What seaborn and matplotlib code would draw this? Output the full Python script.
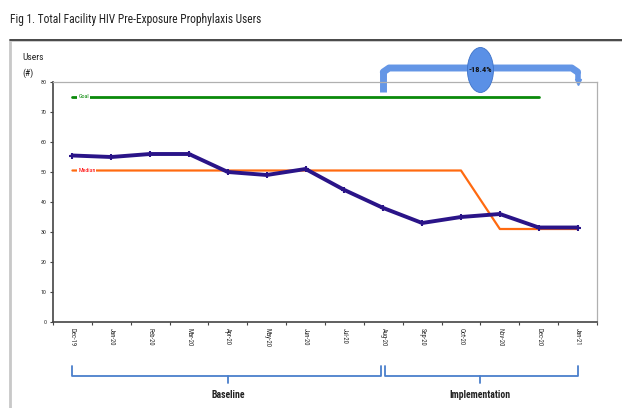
import numpy as np
import pandas as pd
import matplotlib
matplotlib.use("Agg")
import matplotlib.pyplot as plt
import seaborn as sns
from matplotlib.patches import Rectangle, Ellipse
from matplotlib.transforms import blended_transform_factory
from matplotlib import font_manager

months = ["Dec-19", "Jan-20", "Feb-20", "Mar-20", "Apr-20", "May-20", "Jun-20",
          "Jul-20", "Aug-20", "Sep-20", "Oct-20", "Nov-20", "Dec-20", "Jan-21"]
users = [55.5, 55, 56, 56, 50, 49, 51, 44, 38, 33, 35, 36, 31.5, 31.5]
median = [50.5, 50.5, 50.5, 50.5, 50.5, 50.5, 50.5, 50.5, 50.5, 50.5, 50.5, 31, 31, 31]
goal = [75] * 13
yticks = [0, 10, 20, 30, 40, 50, 60, 70, 80]
change_label = "-18.4%"
phases = ["Baseline", "Implementation"]
phase_bounds = [(0, 8), (8, 13)]

sns.set_theme(style="white")
available = {f.name for f in font_manager.fontManager.ttflist}
NARROW = [f for f in ["Liberation Sans Narrow", "DejaVu Sans Condensed", "Roboto Condensed",
                      "Open Sans Condensed", "Liberation Sans"] if f in available] + ["DejaVu Sans"]
plt.rcParams["font.family"] = NARROW
narrow_ok = NARROW[0] in ("Liberation Sans Narrow", "DejaVu Sans Condensed",
                          "Roboto Condensed", "Open Sans Condensed")
stretch_scale = 1.0 if narrow_ok else 0.85

W, H = 622, 408
fig = plt.figure(figsize=(W / 100, H / 100), dpi=100)

def fx(x):
    return x / W

def fy(y):
    return 1 - y / H

# outer frame
fig.patches.append(Rectangle((fx(10), fy(420)), fx(640) - fx(10), fy(40) - fy(420),
                             transform=fig.transFigure, fill=False,
                             edgecolor="#c8c8c8", lw=2, zorder=0))
fig.add_artist(plt.Line2D([fx(10), fx(622)], [fy(40), fy(40)], transform=fig.transFigure,
                          color="#333333", lw=1.2))

fig.text(fx(10), fy(19), "Fig 1. Total Facility HIV Pre-Exposure Prophylaxis Users",
         fontsize=8.3 * stretch_scale, va="center", ha="left", color="#222222")

ax = fig.add_axes([fx(53), fy(322), fx(597) - fx(53), fy(82) - fy(322)])

x = np.arange(len(months))
df = pd.DataFrame({"x": x, "users": users, "median": median})
dg = pd.DataFrame({"x": x[:len(goal)], "goal": goal})

sns.lineplot(data=dg, x="x", y="goal", ax=ax, color="#0a8a0a", lw=2)
sns.lineplot(data=df, x="x", y="median", ax=ax, color="#ff6a10", lw=1.6)
sns.lineplot(data=df, x="x", y="users", ax=ax, color="#2a1488", lw=2.8,
             marker="+", markersize=5, markeredgewidth=1.5, markeredgecolor="#2a1488")

ax.text(0.15, goal[0], "Goal", fontsize=4.3, color="#0a8a0a", va="center", ha="left",
        bbox=dict(facecolor="white", edgecolor="none", pad=0.6))
ax.text(0.15, median[0], "Median", fontsize=4.3, color="#ff0000", va="center", ha="left",
        bbox=dict(facecolor="white", edgecolor="none", pad=0.6))

ax.set_xlim(-0.5, len(months) - 0.5)
ax.set_ylim(0, 80)
ax.set_yticks(yticks)
ax.set_yticklabels([str(v) for v in yticks], fontsize=4.2)
ax.set_xticks(x)
ax.set_xticklabels(months, rotation=-90, fontsize=4.8, va="top", ha="center")
ax.set_xticks(np.arange(-0.5, len(months), 1), minor=True)
ax.tick_params(axis="x", which="major", length=0, pad=4)
ax.tick_params(axis="x", which="minor", length=2.5, width=0.8, color="#444444", bottom=True)
ax.tick_params(axis="y", length=2.5, width=0.8, color="#444444", left=True, pad=2)
ax.set_xlabel("")
ax.set_ylabel("")
for s in ["left", "bottom"]:
    ax.spines[s].set_color("#444444")
    ax.spines[s].set_linewidth(1.2)
for s in ["top", "right"]:
    ax.spines[s].set_color("#b0b0b0")
    ax.spines[s].set_linewidth(0.9)

fig.text(fx(22), fy(57), "Users", fontsize=6.8, ha="left", va="center", color="#222222")
fig.text(fx(22), fy(73), "(#)", fontsize=6.8, ha="left", va="center", color="#222222")

# top change bracket
tr = blended_transform_factory(ax.transData, fig.transFigure)
a, b = phase_bounds[1]
blue = "#6496e6"
xl, xr = a, b
ax.plot([xl, xl], [fy(92), fy(72)], transform=tr, color=blue, lw=5, clip_on=False,
        solid_capstyle="butt")
ax.plot([xl, xl + 0.15, xr - 0.15, xr], [fy(72), fy(68), fy(68), fy(72)], transform=tr,
        color=blue, lw=5, clip_on=False, solid_joinstyle="round")
ax.plot([xr, xr], [fy(72), fy(80)], transform=tr, color=blue, lw=4, clip_on=False,
        solid_capstyle="butt")
ax.plot([xr], [fy(82)], transform=tr, marker="v", color=blue, markersize=5, clip_on=False)
cx = (a + b) / 2
ell = Ellipse((cx, fy(70)), 0.67, fy(48) - fy(93), transform=tr, facecolor="#5a90e6",
              edgecolor="#3d72c8", lw=0.6, clip_on=False, zorder=5)
ax.add_patch(ell)
ax.text(cx, fy(69), change_label, transform=tr, fontsize=6 * stretch_scale, fontweight="bold",
        ha="center", va="center", color="#111111", zorder=6)

# phase brackets
bcol = "#4a7fcc"
for (p0, p1), name in zip(phase_bounds, phases):
    l = p0 + (0.05 if p0 > 0 else 0)
    r = p1 - (0.05 if p1 == phase_bounds[0][1] else 0)
    ax.plot([l, l, r, r], [fy(366), fy(376), fy(376), fy(366)], transform=tr,
            color=bcol, lw=1.3, clip_on=False)
    m = (p0 + p1) / 2
    ax.plot([m, m], [fy(376), fy(383)], transform=tr, color=bcol, lw=1.3, clip_on=False)
    ax.text(m, fy(395), name, transform=tr, fontsize=7, fontweight="bold",
            ha="center", va="center", color="#222222")

fig.savefig("out.png", dpi=100)
